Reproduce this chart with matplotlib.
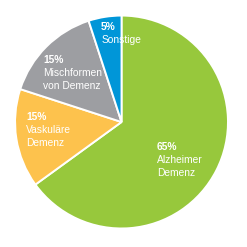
import matplotlib.pyplot as plt

# data
shares = [65, 15, 15, 5]
names = ["Alzheimer\nDemenz", "Vaskuläre\nDemenz", "Mischformen\nvon Demenz", "Sonstige"]
colors = ["#97c83c", "#fdc24d", "#9d9ea2", "#0096d8"]

# label anchors (first-line baseline, in pie radius units)
label_pos = [(0.333, -0.259), (-0.897, 0.023), (-0.737, 0.558), (-0.192, 0.868)]

plt.rcParams['font.family'] = ['Liberation Sans', 'DejaVu Sans']

fig = plt.figure(figsize=(2.47, 2.47), dpi=100)
ax = fig.add_axes([0.061, 0.075, 0.862, 0.862])
ax.pie(shares, colors=colors, startangle=90, counterclock=False, radius=1,
       wedgeprops=dict(edgecolor="white", linewidth=1.4))
ax.set_xlim(-1, 1)
ax.set_ylim(-1, 1)
ax.set_aspect("equal")
ax.axis("off")

line_h = 9.6  # points between lines
for (x, y), pct, name in zip(label_pos, shares, names):
    ax.annotate(f"{pct}%", (x, y), color="white", fontsize=7.4, fontweight="bold",
                ha="left", va="baseline")
    for i, line in enumerate(name.split("\n")):
        ax.annotate(line, (x, y), xytext=(0, -(i + 1) * line_h), textcoords="offset points",
                    color="white", fontsize=7.4, ha="left", va="baseline")

fig.savefig("out.png", dpi=100)
